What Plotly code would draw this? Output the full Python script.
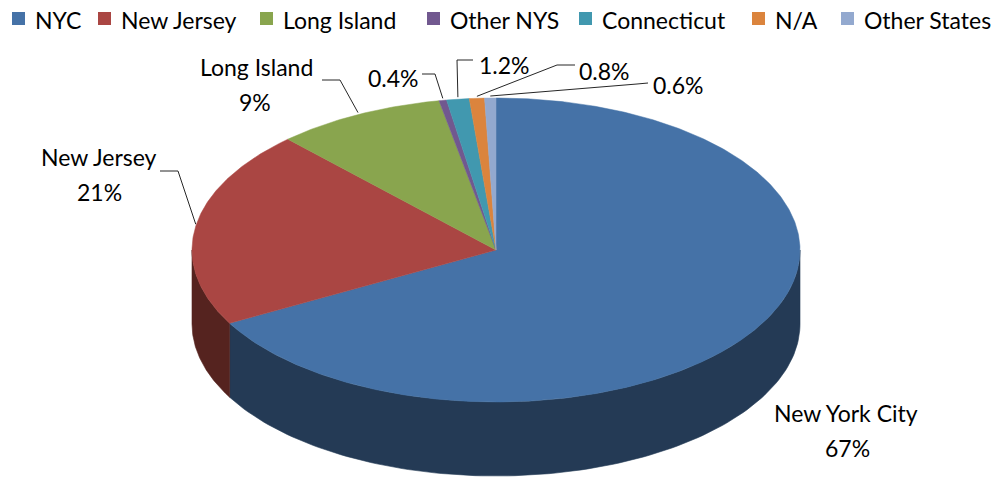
import numpy as np
import plotly.graph_objects as go

# ---------------- data ----------------
categories = ["NYC", "New Jersey", "Long Island", "Other NYS", "Connecticut", "N/A", "Other States"]
label_names = ["New York City", "New Jersey", "Long Island", "", "", "", ""]
values = [67, 21, 9, 0.4, 1.2, 0.8, 0.6]
pct_labels = ["67%", "21%", "9%", "0.4%", "1.2%", "0.8%", "0.6%"]

# ---------------- styles / layout ----------------
top_colors = ["#4572A7", "#AA4643", "#89A54E", "#71588F", "#4198AF", "#DB843D", "#93A9CF"]
side_colors = ["#243A55", "#55231F", "#45532A", "#392C48", "#214C58", "#6E421F", "#4A5568"]

W, H = 1003, 477
CX, CY, RX, RY, DEPTH = 496, 250, 304, 152, 74
FONT = "Lato"
FS = 23

# label text centres (name line, percent line) and leader elbows
name_pos = [(846, 413), (99, 157), (256, 67), None, None, None, None]
pct_pos = [(847, 448), (99, 192), (255, 102), (393, 78), (504, 65), (604, 71), (678, 85)]
leader_start = [None, (160, 171), (322, 80), (422, 74), (473, 60), (575, 65), (648, 83)]
leader_elbow = [None, (178, 171), (340, 80), (435, 74), (457, 60), (557, 65), (637, 84)]

legend_sq_x = [12, 98, 260, 427, 579, 752, 841]
LEG_Y, LEG_SQ = 18.5, 13


def ell(theta_deg, dy=0.0):
    t = np.radians(theta_deg)
    return CX + RX * np.cos(t), CY - RY * np.sin(t) + dy


fig = go.Figure()

total = float(sum(values))
cum = np.concatenate([[0.0], np.cumsum(values) / total])
a_start = 90 - 360 * cum[:-1]   # math angles, clockwise from 12 o'clock
a_end = 90 - 360 * cum[1:]

# ---- side walls (front half only) ----
for i in range(len(values)):
    hi = min(a_start[i], 0.0)
    lo = max(a_end[i], -180.0)
    if hi <= lo:
        continue
    th = np.linspace(hi, lo, 120)
    xt, yt = ell(th)
    xb, yb = ell(th[::-1], DEPTH)
    xs = np.concatenate([xt, xb, xt[:1]])
    ys = np.concatenate([yt, yb, yt[:1]])
    fig.add_trace(go.Scatter(x=xs, y=ys, mode="lines", fill="toself",
                             fillcolor=side_colors[i], line=dict(width=0.6, color=side_colors[i]),
                             hoverinfo="skip", showlegend=False))

# ---- top faces ----
for i in range(len(values)):
    n = max(4, int(abs(a_start[i] - a_end[i]) * 2))
    th = np.linspace(a_start[i], a_end[i], n)
    xa, ya = ell(th)
    xs = np.concatenate([[CX], xa, [CX]])
    ys = np.concatenate([[CY], ya, [CY]])
    fig.add_trace(go.Scatter(x=xs, y=ys, mode="lines", fill="toself",
                             fillcolor=top_colors[i], line=dict(width=0.5, color=top_colors[i]),
                             hoverinfo="skip", showlegend=False))

# ---- leader lines (end at mid-angle of each slice on the rim) ----
for i in range(len(values)):
    if leader_start[i] is None:
        continue
    mid = (a_start[i] + a_end[i]) / 2
    ex, ey = ell(mid)
    xs = [leader_start[i][0], leader_elbow[i][0], ex]
    ys = [leader_start[i][1], leader_elbow[i][1], ey - 2]
    fig.add_trace(go.Scatter(x=xs, y=ys, mode="lines", line=dict(width=1, color="#262626"),
                             hoverinfo="skip", showlegend=False))

annotations = []
for i in range(len(values)):
    if name_pos[i] is not None:
        annotations.append(dict(x=name_pos[i][0], y=name_pos[i][1], text=label_names[i],
                                showarrow=False, xanchor="center", yanchor="middle",
                                font=dict(family=FONT, size=FS, color="#000000")))
    annotations.append(dict(x=pct_pos[i][0], y=pct_pos[i][1], text=pct_labels[i],
                            showarrow=False, xanchor="center", yanchor="middle",
                            font=dict(family=FONT, size=FS, color="#000000")))

# ---- legend ----
shapes = []
for i, cat in enumerate(categories):
    x0 = legend_sq_x[i]
    shapes.append(dict(type="rect", xref="x", yref="y", x0=x0, x1=x0 + LEG_SQ,
                       y0=LEG_Y - LEG_SQ / 2, y1=LEG_Y + LEG_SQ / 2,
                       fillcolor=top_colors[i], line=dict(width=0)))
    annotations.append(dict(x=x0 + LEG_SQ + 8, y=LEG_Y + 1, text=cat, showarrow=False,
                            xanchor="left", yanchor="middle",
                            font=dict(family=FONT, size=FS, color="#000000")))

fig.update_layout(
    width=W, height=H, autosize=False,
    margin=dict(l=0, r=0, t=0, b=0, pad=0),
    paper_bgcolor="white", plot_bgcolor="white",
    xaxis=dict(range=[0, W], visible=False, fixedrange=True),
    yaxis=dict(range=[H, 0], visible=False, fixedrange=True),
    annotations=annotations, shapes=shapes, showlegend=False,
)

fig.write_html("out.html", config={"displayModeBar": False},
               post_script="document.body.style.margin='0';document.body.style.overflow='hidden';")
